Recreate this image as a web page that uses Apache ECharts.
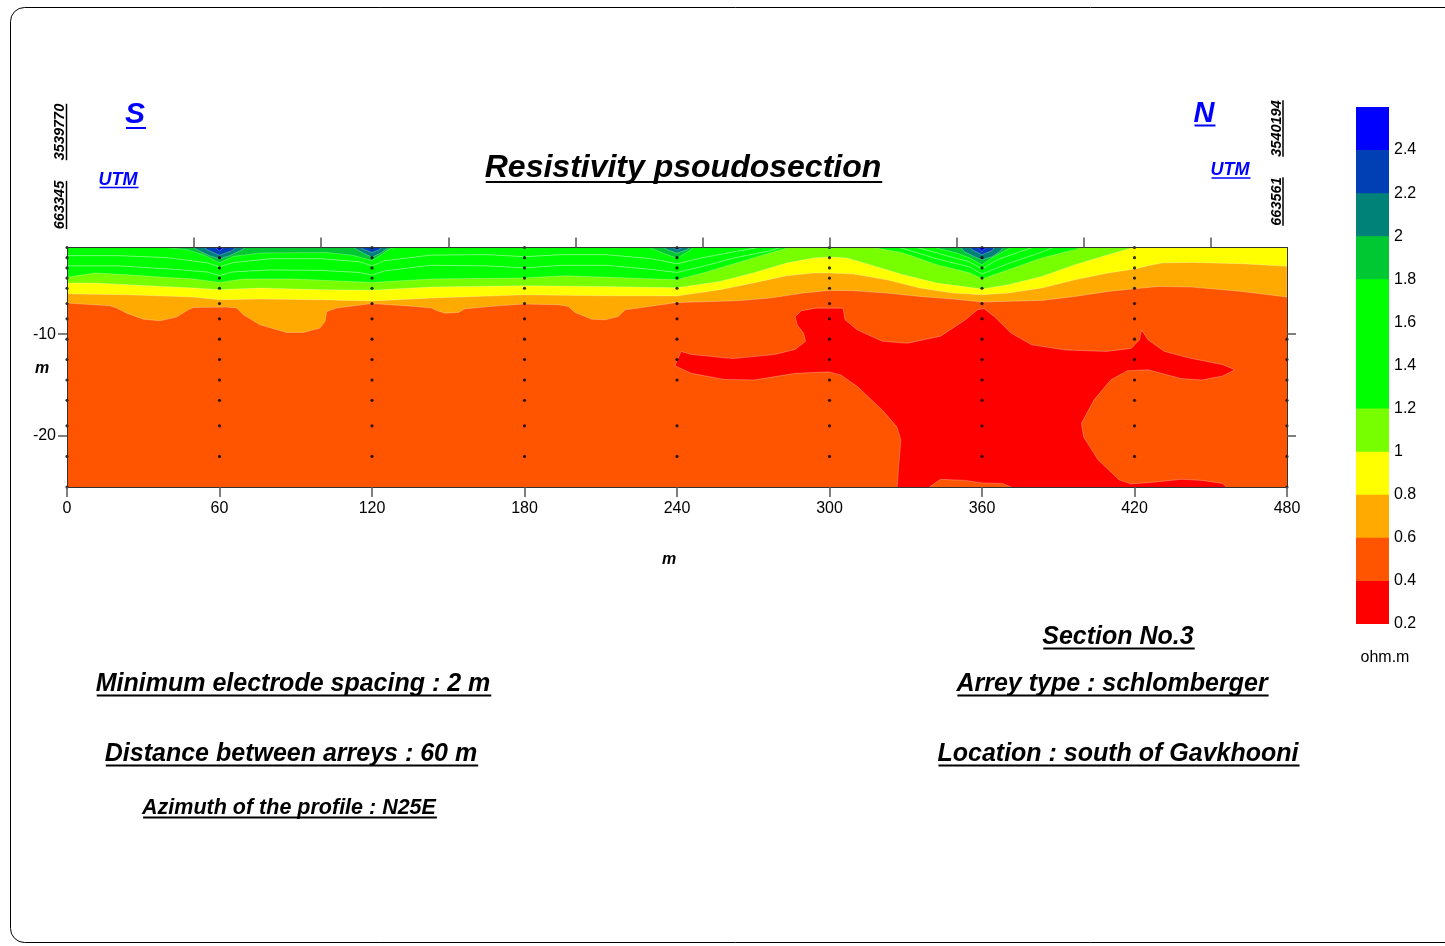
<!DOCTYPE html>
<html><head><meta charset="utf-8">
<script src="https://cdn.jsdelivr.net/npm/echarts@6/dist/echarts.min.js"></script>
<style>html,body{margin:0;padding:0;background:#fff}#c{width:1445px;height:946px}</style>
</head><body><div id="c"></div><script>
// ---------- DATA ----------
// colour classes (ohm.m)
const levels = [0.2,0.4,0.6,0.8,1.0,1.2,1.4,1.6,1.8,2.0,2.2,2.4,2.6];
const levelTicks = [0.2,0.4,0.6,0.8,1,1.2,1.4,1.6,1.8,2,2.2,2.4];
const palette = ['#FF0000','#FF5500','#FFAA00','#FFFF00','#77FF00','#00FF00','#00FF00','#00FF00','#00C832','#008278','#0040B4','#0000FF'];

// sounding stations (m) and sample depths (m)
const stations = [0,60,120,180,240,300,360,420,480];
const depths = [1.5,2.5,3.5,4.5,5.5,7,8.5,10.5,12.5,14.5,16.5,19,22,25];
const firstDepthIdx = [0,0,0,0,0,0,0,0,7];
const lastDepthIdx  = [13,12,12,12,12,12,12,12,13];
const missingSamples = [[240,16.5]];

// isolines [distance m, depth m]
const iso06 = [[0,6.95],[16.9,7.22],[19.6,7.44],[23.5,7.94],[30.0,8.53],[36.6,8.69],[43.1,8.33],[47.7,7.61],[49.7,7.38],[62.8,7.35],[66.8,7.44],[69.4,8.10],[75.9,9.09],[86.4,9.84],[93.0,9.84],[99.5,9.41],[101.5,8.76],[102.2,7.78],[106.1,7.44],[119.9,7.0],[136.9,7.28],[143.5,7.44],[145.4,7.68],[148.7,7.94],[154.0,7.88],[156.6,7.51],[169.7,7.22],[179.9,7.05],[193.3,7.12],[197.2,7.28],[199.9,7.88],[206.4,8.53],[211.7,8.60],[216.9,8.27],[219.6,7.61],[224.8,7.44],[239.9,6.9],[263.5,6.73],[276.6,6.46],[289.7,5.97],[299.9,5.71],[309.4,5.74],[322.5,5.97],[335.6,6.30],[348.7,6.56],[360.1,6.85],[383.5,6.69],[396.6,6.30],[409.7,5.81],[420.2,5.55],[429.4,5.32],[442.5,5.38],[462.2,5.81],[480,6.36]];
const iso08 = [[0,6.04],[23.5,6.14],[49.7,6.36],[60,6.63],[75.9,6.56],[99.5,6.63],[119.9,6.75],[143.5,6.46],[179.9,6.14],[209.0,6.23],[239.9,6.25],[256.9,5.64],[270.0,4.98],[283.2,4.27],[293.7,4.00],[299.9,4.00],[309.4,4.10],[322.5,4.66],[335.6,5.48],[348.7,5.97],[360.1,6.14],[370.4,5.97],[383.5,5.48],[396.6,4.66],[409.7,4.00],[420.2,3.61],[425.4,3.28],[430.7,3.02],[442.5,2.96],[462.2,3.09],[480,3.35]];
const iso10 = [[0,4.99],[10.3,4.99],[23.5,5.15],[49.7,5.48],[60,5.64],[75.9,5.48],[99.5,5.64],[119.9,5.7],[143.5,5.38],[179.9,5.25],[209.0,5.32],[239.9,5.45],[256.9,4.83],[270.0,4.00],[283.2,3.02],[293.7,2.53],[299.9,2.43],[306.7,2.53],[315.9,3.19],[329.0,4.17],[342.2,4.99],[360.1,5.58],[370.4,5.15],[383.5,4.34],[396.6,3.19],[409.7,2.20],[417.6,1.64],[421.5,1.32],[423,1.0]];
const iso12West = [[0,4.43],[10.9,4.00],[23.5,4.17],[36.6,4.40],[49.7,4.59],[60,4.93],[69.4,4.59],[89.1,4.59],[119.9,4.93],[143.5,4.59],[179.9,4.49],[195.9,4.27],[239.9,4.66],[250.3,4.00],[263.5,3.02],[276.6,2.04],[283.2,1.58],[285.1,1.0]];
const iso12East = [[314.0,1.0],[315.9,1.45],[329.0,2.04],[342.2,3.19],[355.3,4.00],[360.1,4.59],[370.4,3.68],[383.5,2.53],[396.6,1.71],[404.5,1.0]];
const iso14West = [[0,3.3],[20,3.3],[40,3.6],[55,3.9],[60,4.25],[65,3.9],[80,3.7],[100,3.75],[115,3.95],[120,4.2],[125,3.8],[143,3.25],[165,3.3],[180,3.5],[195,3.25],[212,3.25],[230,3.65],[240,3.95],[250,3.35],[263,2.5],[276,1.85],[282,1.4],[284,1.0]];
const iso16West = [[0,2.3],[20,2.3],[40,2.5],[55,3.0],[60,3.4],[65,3.0],[80,2.6],[100,2.6],[115,2.9],[120,3.3],[125,2.8],[143,2.25],[165,2.2],[180,2.4],[195,2.2],[212,2.2],[230,2.6],[240,3.1],[250,2.5],[263,1.9],[274,1.4],[277,1.0]];
const iso14East = [[320,1.0],[329,1.6],[342,2.6],[355,3.4],[360,4.1],[370,3.1],[383,2.0],[393,1.0]];
const iso16East = [[326,1.0],[336,1.6],[346,2.3],[355,2.9],[360,3.6],[366,2.7],[374,2.0],[381,1.4],[384,1.0]];
const iso18Zones = [
  [[34.0,1.0],[36.6,1.45],[47.1,1.71],[53.6,2.20],[60,3.0],[65.5,2.37],[75.9,2.04],[102.2,2.0],[112.6,2.27],[119.9,2.78],[123.8,2.20],[126.4,1.71],[129.0,1.45],[131.5,1.0]],
  [[226,1.0],[230,1.6],[235,2.1],[240,2.55],[245,1.8],[249,1.0]],
  [[339.5,1.0],[342.2,1.55],[350.1,2.04],[355.3,2.53],[360,3.2],[363.8,2.53],[367.7,1.98],[371.7,1.45],[373.0,1.0]]
];
const iso20Zones = [
  [[47,1.0],[51,1.7],[56,2.3],[60,2.6],[64,2.3],[69,1.7],[73,1.0]],
  [[110,1.0],[114,1.7],[117,2.1],[120,2.45],[123,2.1],[126,1.6],[128,1.0]],
  [[232,1.0],[236,1.7],[240,2.05],[244,1.7],[248,1.0]],
  [[350,1.0],[353,1.9],[357,2.4],[360,2.7],[364,2.4],[367,1.9],[370,1.0]]
];
const iso22Zones = [
  [[52,1.0],[55,1.7],[60,2.25],[65,1.8],[69,1.0]],
  [[113,1.0],[116,1.6],[120,2.0],[123,1.7],[125,1.0]],
  [[236,1.0],[238.5,1.5],[240,1.75],[242,1.5],[244,1.0]],
  [[354,1.0],[356,1.7],[360,2.2],[364,1.8],[366,1.0]]
];
const iso24Zones = [
  [[56,1.0],[60,1.85],[64,1.0]],
  [[356.5,1.0],[360,1.9],[363.5,1.0]]
];
const lowZone = [[239.2,13.1],[241.6,11.7],[245.7,12.0],[262.0,12.4],[278.4,12.0],[286.5,11.5],[290.6,10.7],[289.8,9.9],[287.3,9.1],[286.5,8.3],[289.0,7.7],[294.7,7.45],[305.3,7.45],[306.1,8.6],[311.0,9.6],[320.8,10.7],[330.6,10.9],[343.7,10.2],[353.5,8.6],[358.3,7.6],[360.8,7.5],[364.9,8.3],[371.4,9.9],[379.5,11.05],[392.7,11.55],[408.9,11.7],[418.7,11.4],[422.0,10.55],[422.8,9.6],[425.3,10.55],[431.8,11.7],[441.6,12.35],[454.7,13.0],[459.5,13.5],[454.7,14.1],[446.5,14.5],[438.3,14.35],[425.3,13.5],[417.1,13.6],[410.6,14.5],[404.1,16.45],[399.1,18.75],[400.0,20.1],[405.7,22.35],[413.9,24.3],[418.7,24.7],[428.5,24.5],[438.3,24.25],[446.5,24.35],[454.7,24.65],[458.0,25.5],[376.3,25.5],[368.1,24.65],[360.0,24.6],[353.5,24.35],[343.7,24.25],[336.3,25.5],[326.5,25.5],[327.3,22.7],[328.1,20.4],[326.5,19.1],[320.8,17.45],[311.0,15.15],[304.5,14.0],[299.6,13.7],[286.5,13.85],[270.2,14.5],[258.8,14.45],[245.7,13.85]];

// ---------- BUILD ----------
const FONT = '"Liberation Sans", Arial, sans-serif';
function topClosed(line){
  const a = line[0], b = line[line.length-1];
  return line.concat([[b[0], 0.5],[a[0], 0.5]]);
}
function polySeries(polys, color){
  return {
    type:'custom', xAxisIndex:0, yAxisIndex:0, clip:true, silent:true, z:2,
    data: polys.map((p,i)=>({value:[240,-10,i]})),
    renderItem: function(params, api){
      const poly = polys[params.dataIndex];
      return {type:'polygon', shape:{points: poly.map(p=>api.coord([p[0], -p[1]]))},
        style:{fill:color, stroke:'rgba(255,255,255,0.35)', lineWidth:0.8}};
    }
  };
}
function lineSeries(lines){
  return {
    type:'custom', xAxisIndex:0, yAxisIndex:0, clip:true, silent:true, z:3,
    data: lines.map((p,i)=>({value:[240,-10,i]})),
    renderItem: function(params, api){
      const l = lines[params.dataIndex];
      return {type:'polyline', shape:{points: l.map(p=>api.coord([p[0], -p[1]]))},
        style:{fill:null, stroke:'rgba(255,255,255,0.45)', lineWidth:1}};
    }
  };
}
const series = [
  polySeries([topClosed(iso06)], palette[2]),
  polySeries([topClosed(iso08)], palette[3]),
  polySeries([topClosed(iso10)], palette[4]),
  polySeries([topClosed(iso12West), topClosed(iso12East)], palette[5]),
  lineSeries([iso14West, iso16West, iso14East, iso16East]),
  polySeries(iso18Zones, palette[8]),
  polySeries(iso20Zones, palette[9]),
  polySeries(iso22Zones, palette[10]),
  polySeries(iso24Zones, palette[11]),
  polySeries([lowZone], palette[0])
];
// sample points
const pts = [];
stations.forEach((s,i)=>{
  for(let k=firstDepthIdx[i]; k<=lastDepthIdx[i]; k++){
    const d = depths[k];
    if(missingSamples.some(m=>m[0]===s && m[1]===d)) continue;
    pts.push([s, -d]);
  }
});
series.push({type:'scatter', xAxisIndex:0, yAxisIndex:0, data:pts, symbolSize:3.2, silent:true, z:6,
  itemStyle:{color:'#000'}});
// colour bar
const bands = [];
for(let i=0;i<levels.length-1;i++) bands.push([levels[i], levels[i+1], i]);
series.push({type:'custom', xAxisIndex:2, yAxisIndex:2, silent:true,
  data: bands.map(b=>({value:[0.5,(b[0]+b[1])/2,b[2]]})),
  renderItem: function(params, api){
    const b = bands[params.dataIndex];
    const p1 = api.coord([0, b[1]]), p2 = api.coord([1, b[0]]);
    const top = params.dataIndex === bands.length-1 ? p1[1] : p1[1]-1;
    return {type:'rect', shape:{x:p1[0], y:top, width:p2[0]-p1[0], height:p2[1]-top},
      style:{fill: palette[b[2]]}};
  }});

// ---------- TEXT ----------
const mctx = document.createElement('canvas').getContext('2d');
function textW(t, size, weight, style){
  mctx.font = (style||'normal') + ' ' + (weight||'normal') + ' ' + size + 'px ' + FONT;
  return mctx.measureText(t).width;
}
const notes = [
  {t:'Resistivity psoudosection', x:683, y:168.5, size:32, color:'#000', ul:182, lw:2.2},
  {t:'S', x:135, y:115, size:30, color:'#0000FF', ul:128, lw:2},
  {t:'UTM', x:118, y:180, size:18, color:'#0000FF', ul:187.5, lw:1.5},
  {t:'N', x:1204, y:114, size:29, color:'#0000FF', ul:125.5, lw:2},
  {t:'UTM', x:1230, y:170.5, size:18, color:'#0000FF', ul:178, lw:1.5},
  {t:'Section No.3', x:1118, y:637, size:25, color:'#000', ul:648.5, lw:2},
  {t:'Minimum electrode spacing : 2 m', x:293, y:684, size:25, color:'#000', ul:695.5, lw:2},
  {t:'Arrey type : schlomberger', x:1112, y:684, size:25, color:'#000', ul:695.5, lw:2},
  {t:'Distance between arreys : 60 m', x:291, y:754, size:25, color:'#000', ul:765.5, lw:2},
  {t:'Location : south of Gavkhooni', x:1118, y:754, size:25, color:'#000', ul:765.5, lw:2},
  {t:'Azimuth of the profile : N25E', x:289, y:808, size:21.5, color:'#000', ul:817.5, lw:1.8}
];
const vnotes = [
  {t:'3539770', x:60, y:132, ux:66.5},
  {t:'663345', x:60, y:205, ux:66.5},
  {t:'3540194', x:1276.5, y:128.5, ux:1283},
  {t:'663561', x:1276.5, y:201.5, ux:1283}
];
const graphic = [
  {type:'rect', shape:{x:10.5, y:7.5, width:1460, height:935, r:14}, style:{fill:'none', stroke:'#000', lineWidth:1}, z:-1}
];
notes.forEach(n=>{
  graphic.push({type:'text', x:n.x, y:n.y, style:{text:n.t, fill:n.color, font:'italic bold '+n.size+'px '+FONT, textAlign:'center', textVerticalAlign:'middle'}});
  const w = textW(n.t, n.size, 'bold', 'italic');
  graphic.push({type:'line', shape:{x1:n.x-w/2+1, y1:n.ul, x2:n.x+w/2+1, y2:n.ul}, style:{stroke:n.color, lineWidth:n.lw}});
});
vnotes.forEach(n=>{
  graphic.push({type:'text', x:n.x, y:n.y, rotation:Math.PI/2, style:{text:n.t, fill:'#000', font:'italic bold 14.5px '+FONT, textAlign:'center', textVerticalAlign:'middle'}});
  const w = textW(n.t, 14.5, 'bold', 'italic');
  graphic.push({type:'line', shape:{x1:n.ux, y1:n.y-w/2, x2:n.ux, y2:n.y+w/2}, style:{stroke:'#000', lineWidth:1.5}});
});
graphic.push({type:'text', x:669, y:560, style:{text:'m', fill:'#000', font:'italic bold 16px '+FONT, textAlign:'center', textVerticalAlign:'middle'}});
graphic.push({type:'text', x:42, y:369, style:{text:'m', fill:'#000', font:'italic bold 16px '+FONT, textAlign:'center', textVerticalAlign:'middle'}});
graphic.push({type:'text', x:1385, y:658, style:{text:'ohm.m', fill:'#000', font:'16px '+FONT, textAlign:'center', textVerticalAlign:'middle'}});

const tickStyle = {color:'#555', width:1.5};
const option = {
  animation:false,
  backgroundColor:'#fff',
  grid:[
    {left:67, top:247.5, width:1220, height:239.5, show:true, backgroundColor:palette[1], borderWidth:0},
    {left:1356, top:107, width:33, height:517, show:false}
  ],
  xAxis:[
    {gridIndex:0, type:'value', min:0, max:480, interval:60, position:'bottom', z:10,
      axisLine:{show:true, onZero:false, lineStyle:{color:'#333', width:1}},
      axisTick:{show:true, inside:false, length:10, lineStyle:tickStyle},
      axisLabel:{show:true, fontSize:16, fontFamily:FONT, color:'#000', margin:14},
      splitLine:{show:false}},
    {gridIndex:0, type:'value', min:0, max:480, interval:50, position:'top', z:10,
      axisLine:{show:true, onZero:false, lineStyle:{color:'#333', width:1}},
      axisTick:{show:true, inside:false, length:10, lineStyle:tickStyle, customValues:[50,100,150,200,250,300,350,400,450]},
      axisLabel:{show:false}, splitLine:{show:false}},
    {gridIndex:1, type:'value', min:0, max:1, show:false}
  ],
  yAxis:[
    {gridIndex:0, type:'value', min:-25, max:-1.5, position:'left', z:10,
      axisLine:{show:true, onZero:false, lineStyle:{color:'#333', width:1}},
      axisTick:{show:true, inside:false, length:9, lineStyle:tickStyle, customValues:[-20,-10]},
      axisLabel:{show:true, customValues:[-20,-10], fontSize:16, fontFamily:FONT, color:'#000', margin:11, padding:[2,0,0,0]},
      splitLine:{show:false}},
    {gridIndex:0, type:'value', min:-25, max:-1.5, position:'right', z:10,
      axisLine:{show:true, onZero:false, lineStyle:{color:'#333', width:1}},
      axisTick:{show:true, inside:false, length:9, lineStyle:tickStyle, customValues:[-20,-10]},
      axisLabel:{show:false}, splitLine:{show:false}},
    {gridIndex:1, type:'value', min:0.2, max:2.6, position:'right',
      axisLine:{show:false}, axisTick:{show:false},
      axisLabel:{show:true, customValues:levelTicks, fontSize:16, fontFamily:FONT, color:'#000', margin:5, padding:[4,0,0,0]},
      splitLine:{show:false}}
  ],
  series: series,
  graphic: graphic
};
const chart = echarts.init(document.getElementById('c'), null, {renderer:'canvas'});
chart.setOption(option);
</script></body></html>
